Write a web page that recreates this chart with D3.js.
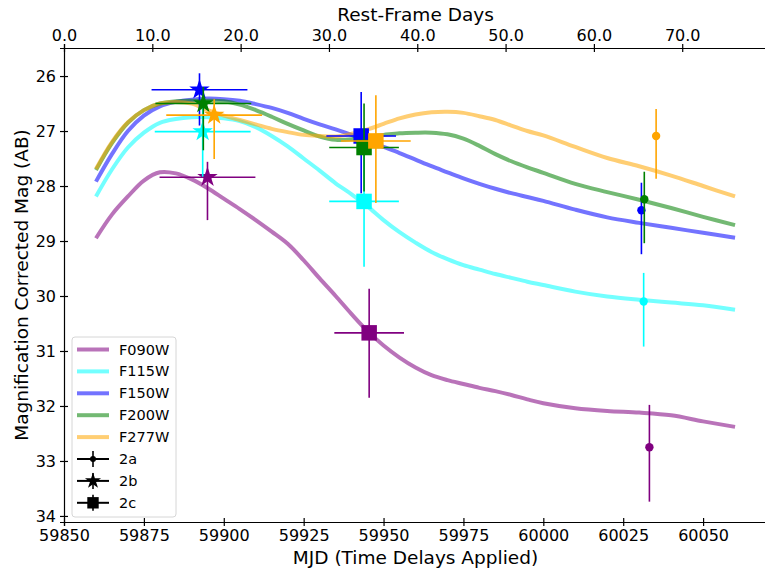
<!DOCTYPE html>
<html>
<head>
<meta charset="utf-8">
<title>Light curves 2a 2b 2c</title>
<script src="https://d3js.org/d3.v7.min.js"></script>
<style>
  body { margin: 0; background: #fff; }
  text { font-family: 'DejaVu Sans', sans-serif; }
  .axis path, .axis line { stroke: #000; stroke-width: 1.2; }
  .axis text { font-size: 16px; fill: #000; }
</style>
</head>
<body>
<svg width="765" height="570"></svg>
<script>

// model grid (MJD) and model mags per filter
var modelMJD = [59860, 59865, 59870, 59875, 59880, 59885, 59890, 59895, 59900, 59905,
  59910, 59915, 59920, 59925, 59930, 59935, 59940, 59945, 59950, 59955,
  59960, 59965, 59970, 59975, 59980, 59985, 59990, 59995, 60000, 60010,
  60020, 60030, 60040, 60050, 60060];

var modelF090W = [28.95, 28.52, 28.19, 27.9, 27.75, 27.77, 27.88, 28.04, 28.23, 28.42,
  28.62, 28.83, 29.05, 29.35, 29.68, 30.0, 30.33, 30.64, 30.9, 31.12,
  31.3, 31.44, 31.53, 31.6, 31.67, 31.73, 31.8, 31.88, 31.95, 32.04,
  32.09, 32.12, 32.17, 32.28, 32.38];
var modelF115W = [28.19, 27.7, 27.3, 27.03, 26.85, 26.78, 26.75, 26.75, 26.77, 26.82,
  26.93, 27.09, 27.28, 27.5, 27.72, 27.95, 28.15, 28.37, 28.62, 28.84,
  29.03, 29.2, 29.33, 29.44, 29.52, 29.6, 29.67, 29.74, 29.8, 29.92,
  30.01, 30.07, 30.12, 30.17, 30.25];
var modelF150W = [27.92, 27.42, 27.0, 26.72, 26.55, 26.47, 26.43, 26.41, 26.42, 26.45,
  26.51, 26.58, 26.67, 26.78, 26.88, 26.97, 27.07, 27.18, 27.29, 27.4,
  27.52, 27.64, 27.75, 27.86, 27.96, 28.05, 28.13, 28.2, 28.27, 28.43,
  28.57, 28.67, 28.76, 28.85, 28.94];
var modelF200W = [27.71, 27.22, 26.85, 26.62, 26.5, 26.46, 26.45, 26.45, 26.46, 26.52,
  26.62, 26.74, 26.87, 26.99, 27.1, 27.16, 27.15, 27.1, 27.07, 27.04,
  27.03, 27.03, 27.06, 27.14, 27.27, 27.42, 27.55, 27.66, 27.76, 27.96,
  28.11, 28.25, 28.4, 28.56, 28.71];
var modelF277W = [27.69, 27.2, 26.84, 26.62, 26.5, 26.47, 26.5, 26.62, 26.72, 26.8,
  26.88, 26.96, 27.02, 27.07, 27.09, 27.1, 27.05, 26.97, 26.87, 26.77,
  26.7, 26.66, 26.65, 26.67, 26.73, 26.8, 26.9, 27.0, 27.08, 27.29,
  27.49, 27.64, 27.81, 28.0, 28.19];

var filters = ["F090W", "F115W", "F150W", "F200W", "F277W"];
var lineColors = ["purple", "cyan", "blue", "green", "orange"];
var models = [modelF090W, modelF115W, modelF150W, modelF200W, modelF277W];

// observed points, one entry per filter (F090W..F277W)
// 2a (circles)
var mjd2a  = [60033.2, 60031.4, 60030.7, 60031.6, 60035.3];
var mag2a  = [32.75, 30.10, 28.44, 28.24, 27.09];
var errLo2a = [0.77, 0.52, 0.50, 0.50, 0.49];
var errHi2a = [0.99, 0.82, 0.80, 0.80, 0.78];
var xerr2a = [0, 0, 0, 0, 0];
// 2b (stars)
var mjd2b  = [59894.9, 59893.4, 59892.4, 59893.6, 59897.0];
var mag2b  = [27.84, 27.01, 26.25, 26.50, 26.71];
var errLo2b = [0.28, 0.80, 0.30, 0.30, 0.29];
var errHi2b = [0.78, 0.82, 0.65, 0.85, 0.80];
var xerr2b = [15, 15, 15, 15, 15];
// 2c (squares)
var mjd2c  = [59945.5, 59943.9, 59943.0, 59943.9, 59947.6];
var mag2c  = [30.67, 28.28, 27.09, 27.30, 27.18];
var errLo2c = [0.80, 1.10, 0.80, 0.80, 0.83];
var errHi2c = [1.18, 1.19, 1.04, 0.80, 1.13];
var xerr2c = [10.9, 10.9, 10.9, 10.9, 10.9];

var restTicks = [0, 10, 20, 30, 40, 50, 60, 70];
var mjdTicks = [59850, 59875, 59900, 59925, 59950, 59975, 60000, 60025, 60050];
var magTicks = [26, 27, 28, 29, 30, 31, 32, 33, 34];

var svg = d3.select("svg");
var mLeft = 64, mRight = 767, mTop = 48, mBottom = 522;

var x = d3.scaleLinear().domain([59850, 60070]).range([mLeft, mRight]);
var xRest = d3.scaleLinear().domain([0, 79.6]).range([mLeft, mRight]);
var y = d3.scaleLinear().domain([25.49, 34.11]).range([mTop, mBottom]);

// axes
var gx = svg.append("g").attr("class", "axis")
    .attr("transform", "translate(0," + mBottom + ")")
    .call(d3.axisBottom(x).tickValues(mjdTicks).tickFormat(d3.format("d")).tickSize(4).tickPadding(4));
gx.selectAll(".tick line").attr("y1", -4).attr("y2", 4);

var gt = svg.append("g").attr("class", "axis")
    .attr("transform", "translate(0," + mTop + ")")
    .call(d3.axisTop(xRest).tickValues(restTicks).tickFormat(d3.format(".1f")).tickSize(4).tickPadding(3));
gt.selectAll(".tick line").attr("y1", -4).attr("y2", 4);

var gy = svg.append("g").attr("class", "axis")
    .attr("transform", "translate(" + mLeft + ",0)")
    .call(d3.axisLeft(y).tickValues(magTicks).tickSize(4).tickPadding(4));
gy.selectAll(".tick line").attr("x1", -4).attr("x2", 4);

// axis titles
svg.append("text").attr("x", (mLeft + mRight) / 2).attr("y", 21)
    .attr("text-anchor", "middle").style("font-size", "18.5px").text("Rest-Frame Days");
svg.append("text").attr("x", (mLeft + mRight) / 2).attr("y", 564)
    .attr("text-anchor", "middle").style("font-size", "18.5px").text("MJD (Time Delays Applied)");
svg.append("text").attr("transform", "translate(28," + (mTop + mBottom) / 2 + ") rotate(-90)")
    .attr("text-anchor", "middle").style("font-size", "18.5px").text("Magnification Corrected Mag (AB)");

// model curves
var line = d3.line()
    .x(function(d) { return x(d[0]); })
    .y(function(d) { return y(d[1]); })
    .curve(d3.curveCatmullRom);

models.forEach(function(m, i) {
  svg.append("path")
      .datum(modelMJD.map(function(t, j) { return [t, m[j]]; }))
      .attr("fill", "none")
      .attr("stroke", lineColors[i])
      .attr("stroke-opacity", 0.55)
      .attr("stroke-width", 4)
      .attr("d", line);
});

// observed points with error bars
function drawImage(mjd, mag, lo, hi, xe, sym, size) {
  filters.forEach(function(f, i) {
    var g = svg.append("g");
    var c = lineColors[i];
    g.append("line")
        .attr("x1", x(mjd[i])).attr("x2", x(mjd[i]))
        .attr("y1", y(mag[i] - lo[i])).attr("y2", y(mag[i] + hi[i]))
        .attr("stroke", c).attr("stroke-width", 1.6);
    if (xe[i] > 0) {
      g.append("line")
          .attr("x1", x(mjd[i] - xe[i])).attr("x2", x(mjd[i] + xe[i]))
          .attr("y1", y(mag[i])).attr("y2", y(mag[i]))
          .attr("stroke", c).attr("stroke-width", 1.6);
    }
    g.append("path")
        .attr("transform", "translate(" + x(mjd[i]) + "," + y(mag[i]) + ")")
        .attr("d", d3.symbol().type(sym).size(size)())
        .attr("fill", c);
  });
}
drawImage(mjd2a, mag2a, errLo2a, errHi2a, xerr2a, d3.symbolCircle, 55);
drawImage(mjd2b, mag2b, errLo2b, errHi2b, xerr2b, d3.symbolStar, 130);
drawImage(mjd2c, mag2c, errLo2c, errHi2c, xerr2c, d3.symbolSquare, 240);

// legend
var lg = svg.append("g").attr("transform", "translate(72,337)");
lg.append("rect").attr("width", 104).attr("height", 180).attr("rx", 3)
    .attr("fill", "#fff").attr("fill-opacity", 0.85).attr("stroke", "#d6d6d6");

var legendLabels = filters.concat(["2a", "2b", "2c"]);
var legendSyms = [d3.symbolCircle, d3.symbolStar, d3.symbolSquare];
var legendSizes = [28, 80, 130];
legendLabels.forEach(function(lab, i) {
  var yy = 12.5 + i * 21.9;
  var row = lg.append("g").attr("transform", "translate(0," + yy + ")");
  if (i < 5) {
    row.append("line").attr("x1", 5).attr("x2", 37).attr("y1", 0).attr("y2", 0)
        .attr("stroke", lineColors[i]).attr("stroke-opacity", 0.55).attr("stroke-width", 4);
  } else {
    row.append("line").attr("x1", 5).attr("x2", 37).attr("y1", 0).attr("y2", 0)
        .attr("stroke", "#000").attr("stroke-width", 2);
    row.append("line").attr("x1", 21).attr("x2", 21).attr("y1", -8).attr("y2", 8)
        .attr("stroke", "#000").attr("stroke-width", 1.6);
    row.append("path").attr("transform", "translate(21,0)")
        .attr("d", d3.symbol().type(legendSyms[i - 5]).size(legendSizes[i - 5])())
        .attr("fill", "#000");
  }
  row.append("text").attr("x", 47).attr("y", 5).style("font-size", "14.5px").text(lab);
});

</script>
</body>
</html>
